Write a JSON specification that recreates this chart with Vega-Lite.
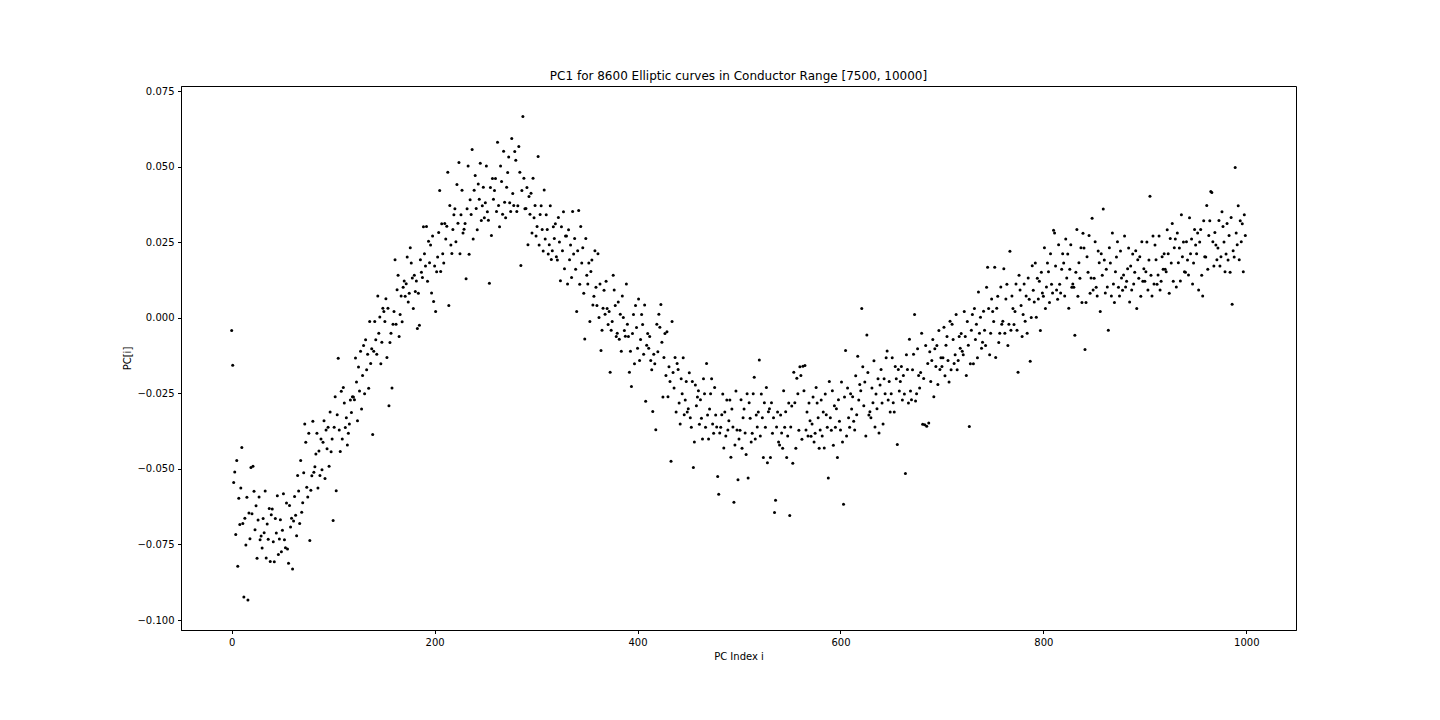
{
"$schema": "https://vega.github.io/schema/vega-lite/v6.json",
"width": 1115,
"height": 544,
"autosize": {"type": "none"},
"padding": {"left": 181, "top": 86, "right": 144, "bottom": 90},
"background": "white",
"config": {
  "view": {"stroke": "black", "strokeWidth": 1},
  "font": "DejaVu Sans",
  "axis": {"grid": false, "labelFont": "DejaVu Sans", "titleFont": "DejaVu Sans", "labelFontSize": 10, "titleFontSize": 10, "titleFontWeight": "normal", "labelColor": "black", "titleColor": "black", "tickColor": "black", "domainColor": "black", "tickSize": 3.5, "labelPadding": 3.5}
},
"title": {"text": "PC1 for 8600 Elliptic curves in Conductor Range [7500, 10000]", "font": "DejaVu Sans", "fontSize": 12, "fontWeight": "normal", "color": "black", "anchor": "middle", "offset": 3},
"data": {"values": [
{"i":0,"v":-0.0042},{"i":1,"v":-0.0157},{"i":2,"v":-0.0545},{"i":3,"v":-0.051},{"i":4,"v":-0.0717},{"i":5,"v":-0.0472},{"i":6,"v":-0.0822},{"i":7,"v":-0.0597},{"i":8,"v":-0.0684},{"i":9,"v":-0.0563},
{"i":10,"v":-0.0429},{"i":11,"v":-0.0681},{"i":12,"v":-0.0924},{"i":13,"v":-0.0663},{"i":14,"v":-0.0752},{"i":15,"v":-0.0594},{"i":16,"v":-0.0934},{"i":17,"v":-0.0646},{"i":18,"v":-0.0731},{"i":19,"v":-0.0495},
{"i":20,"v":-0.0648},{"i":21,"v":-0.0491},{"i":22,"v":-0.0574},{"i":23,"v":-0.0701},{"i":24,"v":-0.0622},{"i":25,"v":-0.0796},{"i":26,"v":-0.0669},{"i":27,"v":-0.0593},{"i":28,"v":-0.0734},{"i":29,"v":-0.0722},
{"i":30,"v":-0.0762},{"i":31,"v":-0.0664},{"i":32,"v":-0.0711},{"i":33,"v":-0.0573},{"i":34,"v":-0.0795},{"i":35,"v":-0.0682},{"i":36,"v":-0.0733},{"i":37,"v":-0.0631},{"i":38,"v":-0.0806},{"i":39,"v":-0.0652},
{"i":40,"v":-0.0633},{"i":41,"v":-0.0741},{"i":42,"v":-0.0807},{"i":43,"v":-0.0664},{"i":44,"v":-0.0712},{"i":45,"v":-0.0589},{"i":46,"v":-0.0783},{"i":47,"v":-0.0732},{"i":48,"v":-0.0668},{"i":49,"v":-0.0774},
{"i":50,"v":-0.0703},{"i":51,"v":-0.0582},{"i":52,"v":-0.0734},{"i":53,"v":-0.0761},{"i":54,"v":-0.0613},{"i":55,"v":-0.0765},{"i":56,"v":-0.0812},{"i":57,"v":-0.0621},{"i":58,"v":-0.0692},{"i":59,"v":-0.0663},
{"i":60,"v":-0.0831},{"i":61,"v":-0.0672},{"i":62,"v":-0.0591},{"i":63,"v":-0.0653},{"i":64,"v":-0.0721},{"i":65,"v":-0.0522},{"i":66,"v":-0.0573},{"i":67,"v":-0.0681},{"i":68,"v":-0.0472},{"i":69,"v":-0.0643},
{"i":70,"v":-0.0612},{"i":71,"v":-0.0513},{"i":72,"v":-0.0351},{"i":73,"v":-0.0412},{"i":74,"v":-0.0561},{"i":75,"v":-0.0593},{"i":76,"v":-0.0382},{"i":77,"v":-0.0737},{"i":78,"v":-0.0571},{"i":79,"v":-0.0523},
{"i":80,"v":-0.0342},{"i":81,"v":-0.0511},{"i":82,"v":-0.0493},{"i":83,"v":-0.0451},{"i":84,"v":-0.0382},{"i":85,"v":-0.0563},{"i":86,"v":-0.0441},{"i":87,"v":-0.0522},{"i":88,"v":-0.0401},{"i":89,"v":-0.0503},
{"i":90,"v":-0.0412},{"i":91,"v":-0.0341},{"i":92,"v":-0.0532},{"i":93,"v":-0.0371},{"i":94,"v":-0.0433},{"i":95,"v":-0.0362},{"i":96,"v":-0.0491},{"i":97,"v":-0.0312},{"i":98,"v":-0.0443},{"i":99,"v":-0.0401},
{"i":100,"v":-0.0671},{"i":101,"v":-0.0362},{"i":102,"v":-0.0261},{"i":103,"v":-0.0572},{"i":104,"v":-0.0321},{"i":105,"v":-0.0134},{"i":106,"v":-0.0371},{"i":107,"v":-0.0442},{"i":108,"v":-0.0243},{"i":109,"v":-0.0401},
{"i":110,"v":-0.0231},{"i":111,"v":-0.0282},{"i":112,"v":-0.0363},{"i":113,"v":-0.0331},{"i":114,"v":-0.0421},{"i":115,"v":-0.0382},{"i":116,"v":-0.0351},{"i":117,"v":-0.0272},{"i":118,"v":-0.0313},{"i":119,"v":-0.0261},
{"i":120,"v":-0.0262},{"i":121,"v":-0.0271},{"i":122,"v":-0.0133},{"i":123,"v":-0.0212},{"i":124,"v":-0.0341},{"i":125,"v":-0.0163},{"i":126,"v":-0.0242},{"i":127,"v":-0.0111},{"i":128,"v":-0.0302},{"i":129,"v":-0.0191},
{"i":130,"v":-0.0092},{"i":131,"v":-0.0251},{"i":132,"v":-0.0073},{"i":133,"v":-0.0172},{"i":134,"v":-0.0121},{"i":135,"v":-0.0233},{"i":136,"v":-0.0012},{"i":137,"v":-0.0151},{"i":138,"v":-0.0102},{"i":139,"v":-0.0386},
{"i":140,"v":-0.0111},{"i":141,"v":-0.0012},{"i":142,"v":-0.0073},{"i":143,"v":-0.0121},{"i":144,"v":0.0072},{"i":145,"v":-0.0051},{"i":146,"v":0.0003},{"i":147,"v":-0.0152},{"i":148,"v":-0.0081},{"i":149,"v":0.0032},
{"i":150,"v":0.0021},{"i":151,"v":-0.0012},{"i":152,"v":0.0063},{"i":153,"v":-0.0131},{"i":154,"v":0.0032},{"i":155,"v":-0.0291},{"i":156,"v":-0.0082},{"i":157,"v":-0.0051},{"i":158,"v":-0.0232},{"i":159,"v":-0.0021},
{"i":160,"v":0.0021},{"i":161,"v":0.0192},{"i":162,"v":-0.0021},{"i":163,"v":0.0093},{"i":164,"v":0.0141},{"i":165,"v":-0.0062},{"i":166,"v":0.0011},{"i":167,"v":0.0072},{"i":168,"v":-0.0013},{"i":169,"v":0.0101},
{"i":170,"v":0.0122},{"i":171,"v":0.0071},{"i":172,"v":0.0113},{"i":173,"v":0.0201},{"i":174,"v":0.0052},{"i":175,"v":0.0081},{"i":176,"v":0.0232},{"i":177,"v":0.0181},{"i":178,"v":0.0132},{"i":179,"v":0.0031},
{"i":180,"v":0.0141},{"i":181,"v":0.0087},{"i":182,"v":0.0122},{"i":183,"v":-0.0035},{"i":184,"v":0.0081},{"i":185,"v":-0.0025},{"i":186,"v":0.0192},{"i":187,"v":0.0151},{"i":188,"v":0.0133},{"i":189,"v":0.0301},
{"i":190,"v":0.0212},{"i":191,"v":0.0171},{"i":192,"v":0.0302},{"i":193,"v":0.0121},{"i":194,"v":0.0253},{"i":195,"v":0.0182},{"i":196,"v":0.0241},{"i":197,"v":0.0082},{"i":198,"v":0.0271},{"i":199,"v":0.0054},
{"i":200,"v":0.0171},{"i":201,"v":0.0021},{"i":202,"v":0.0152},{"i":203,"v":0.0201},{"i":204,"v":0.0282},{"i":205,"v":0.0421},{"i":206,"v":0.0153},{"i":207,"v":0.0311},{"i":208,"v":0.0212},{"i":209,"v":0.0181},
{"i":210,"v":0.0312},{"i":211,"v":0.0261},{"i":212,"v":0.0303},{"i":213,"v":0.0482},{"i":214,"v":0.0041},{"i":215,"v":0.0372},{"i":216,"v":0.0241},{"i":217,"v":0.0213},{"i":218,"v":0.0292},{"i":219,"v":0.0341},
{"i":220,"v":0.0361},{"i":221,"v":0.0252},{"i":222,"v":0.0441},{"i":223,"v":0.0313},{"i":224,"v":0.0514},{"i":225,"v":0.0212},{"i":226,"v":0.0341},{"i":227,"v":0.0422},{"i":228,"v":0.0281},{"i":229,"v":0.0293},
{"i":230,"v":0.0312},{"i":231,"v":0.0129},{"i":232,"v":0.0361},{"i":233,"v":0.0502},{"i":234,"v":0.021},{"i":235,"v":0.0391},{"i":236,"v":0.0342},{"i":237,"v":0.0557},{"i":238,"v":0.0261},{"i":239,"v":0.0422},
{"i":240,"v":0.0471},{"i":241,"v":0.0362},{"i":242,"v":0.0291},{"i":243,"v":0.0443},{"i":244,"v":0.0392},{"i":245,"v":0.0511},{"i":246,"v":0.0322},{"i":247,"v":0.0371},{"i":248,"v":0.0432},{"i":249,"v":0.0331},
{"i":250,"v":0.0381},{"i":251,"v":0.0502},{"i":252,"v":0.0351},{"i":253,"v":0.0323},{"i":254,"v":0.0114},{"i":255,"v":0.0431},{"i":256,"v":0.0272},{"i":257,"v":0.0461},{"i":258,"v":0.0392},{"i":259,"v":0.0421},
{"i":260,"v":0.0461},{"i":261,"v":0.0352},{"i":262,"v":0.0581},{"i":263,"v":0.0372},{"i":264,"v":0.0301},{"i":265,"v":0.0502},{"i":266,"v":0.0451},{"i":267,"v":0.0343},{"i":268,"v":0.0551},{"i":269,"v":0.0382},
{"i":270,"v":0.0331},{"i":271,"v":0.0432},{"i":272,"v":0.0481},{"i":273,"v":0.0532},{"i":274,"v":0.0381},{"i":275,"v":0.0352},{"i":276,"v":0.0593},{"i":277,"v":0.0411},{"i":278,"v":0.0372},{"i":279,"v":0.055},
{"i":280,"v":0.0521},{"i":281,"v":0.0352},{"i":282,"v":0.0371},{"i":283,"v":0.0567},{"i":284,"v":0.0482},{"i":285,"v":0.0173},{"i":286,"v":0.0421},{"i":287,"v":0.0666},{"i":288,"v":0.0462},{"i":289,"v":0.0361},
{"i":290,"v":0.0362},{"i":291,"v":0.0431},{"i":292,"v":0.0242},{"i":293,"v":0.0401},{"i":294,"v":0.0343},{"i":295,"v":0.0412},{"i":296,"v":0.0281},{"i":297,"v":0.0462},{"i":298,"v":0.0331},{"i":299,"v":0.0372},
{"i":300,"v":0.0271},{"i":301,"v":0.0302},{"i":302,"v":0.0534},{"i":303,"v":0.0241},{"i":304,"v":0.0342},{"i":305,"v":0.0371},{"i":306,"v":0.0292},{"i":307,"v":0.0221},{"i":308,"v":0.0423},{"i":309,"v":0.0261},
{"i":310,"v":0.0341},{"i":311,"v":0.0292},{"i":312,"v":0.0211},{"i":313,"v":0.0242},{"i":314,"v":0.0371},{"i":315,"v":0.0193},{"i":316,"v":0.0222},{"i":317,"v":0.0301},{"i":318,"v":0.0262},{"i":319,"v":0.0311},
{"i":320,"v":0.0202},{"i":321,"v":0.0191},{"i":322,"v":0.0332},{"i":323,"v":0.0251},{"i":324,"v":0.0123},{"i":325,"v":0.0301},{"i":326,"v":0.0222},{"i":327,"v":0.0351},{"i":328,"v":0.0162},{"i":329,"v":0.0271},
{"i":330,"v":0.0271},{"i":331,"v":0.0112},{"i":332,"v":0.0291},{"i":333,"v":0.0192},{"i":334,"v":0.0241},{"i":335,"v":0.0133},{"i":336,"v":0.0352},{"i":337,"v":0.0211},{"i":338,"v":0.0262},{"i":339,"v":0.0161},
{"i":340,"v":0.0021},{"i":341,"v":0.0222},{"i":342,"v":0.0355},{"i":343,"v":0.0111},{"i":344,"v":0.0302},{"i":345,"v":0.0181},{"i":346,"v":0.0232},{"i":347,"v":0.0081},{"i":348,"v":-0.007},{"i":349,"v":0.0262},
{"i":350,"v":0.0141},{"i":351,"v":0.0112},{"i":352,"v":0.0181},{"i":353,"v":-0.0012},{"i":354,"v":0.0153},{"i":355,"v":0.0191},{"i":356,"v":0.0042},{"i":357,"v":0.0071},{"i":358,"v":0.0222},{"i":359,"v":0.0101},
{"i":360,"v":0.0041},{"i":361,"v":0.0212},{"i":362,"v":0.0001},{"i":363,"v":0.0112},{"i":364,"v":-0.0108},{"i":365,"v":-0.0041},{"i":366,"v":0.0032},{"i":367,"v":0.0091},{"i":368,"v":0.0012},{"i":369,"v":0.0121},
{"i":370,"v":0.0031},{"i":371,"v":-0.0022},{"i":372,"v":0.0021},{"i":373,"v":-0.018},{"i":374,"v":-0.0041},{"i":375,"v":-0.0012},{"i":376,"v":0.0141},{"i":377,"v":0.0092},{"i":378,"v":0.0041},{"i":379,"v":-0.0062},
{"i":380,"v":-0.0051},{"i":381,"v":0.0052},{"i":382,"v":-0.0071},{"i":383,"v":0.0012},{"i":384,"v":-0.0111},{"i":385,"v":0.0072},{"i":386,"v":0.0001},{"i":387,"v":-0.0042},{"i":388,"v":-0.0061},{"i":389,"v":0.0112},
{"i":390,"v":-0.0021},{"i":391,"v":-0.0062},{"i":392,"v":-0.018},{"i":393,"v":-0.0111},{"i":394,"v":-0.0227},{"i":395,"v":-0.0052},{"i":396,"v":0.0011},{"i":397,"v":-0.0152},{"i":398,"v":0.0041},{"i":399,"v":-0.0032},
{"i":400,"v":-0.0101},{"i":401,"v":0.0062},{"i":402,"v":-0.0141},{"i":403,"v":-0.0072},{"i":404,"v":0.0011},{"i":405,"v":-0.0022},{"i":406,"v":-0.0121},{"i":407,"v":0.0042},{"i":408,"v":-0.0276},{"i":409,"v":-0.0091},
{"i":410,"v":-0.0052},{"i":411,"v":-0.0101},{"i":412,"v":-0.0062},{"i":413,"v":-0.0141},{"i":414,"v":-0.0172},{"i":415,"v":-0.031},{"i":416,"v":-0.0121},{"i":417,"v":-0.0152},{"i":418,"v":-0.037},{"i":419,"v":-0.0021},
{"i":420,"v":-0.0112},{"i":421,"v":0.0012},{"i":422,"v":-0.0031},{"i":423,"v":0.0044},{"i":424,"v":-0.0081},{"i":425,"v":-0.0262},{"i":426,"v":-0.0131},{"i":427,"v":-0.0052},{"i":428,"v":-0.0191},{"i":429,"v":-0.0046},
{"i":430,"v":-0.0261},{"i":431,"v":-0.0162},{"i":432,"v":-0.0211},{"i":433,"v":-0.0475},{"i":434,"v":-0.0012},{"i":435,"v":-0.0181},{"i":436,"v":-0.0232},{"i":437,"v":-0.0131},{"i":438,"v":-0.0312},{"i":439,"v":-0.0151},
{"i":440,"v":-0.0171},{"i":441,"v":-0.0282},{"i":442,"v":-0.0351},{"i":443,"v":-0.0202},{"i":444,"v":-0.0251},{"i":445,"v":-0.0132},{"i":446,"v":-0.0321},{"i":447,"v":-0.0272},{"i":448,"v":-0.0211},{"i":449,"v":-0.0312},
{"i":450,"v":-0.0301},{"i":451,"v":-0.0182},{"i":452,"v":-0.0331},{"i":453,"v":-0.0362},{"i":454,"v":-0.0211},{"i":455,"v":-0.0495},{"i":456,"v":-0.0411},{"i":457,"v":-0.0222},{"i":458,"v":-0.0291},{"i":459,"v":-0.0262},
{"i":460,"v":-0.0241},{"i":461,"v":-0.0352},{"i":462,"v":-0.0271},{"i":463,"v":-0.0332},{"i":464,"v":-0.0401},{"i":465,"v":-0.0202},{"i":466,"v":-0.0251},{"i":467,"v":-0.0362},{"i":468,"v":-0.0151},{"i":469,"v":-0.0322},
{"i":470,"v":-0.0401},{"i":471,"v":-0.0302},{"i":472,"v":-0.0251},{"i":473,"v":-0.0202},{"i":474,"v":-0.0351},{"i":475,"v":-0.0382},{"i":476,"v":-0.0231},{"i":477,"v":-0.0322},{"i":478,"v":-0.0361},{"i":479,"v":-0.0525},
{"i":480,"v":-0.0584},{"i":481,"v":-0.0381},{"i":482,"v":-0.0362},{"i":483,"v":-0.0321},{"i":484,"v":-0.0252},{"i":485,"v":-0.0431},{"i":486,"v":-0.0312},{"i":487,"v":-0.0391},{"i":488,"v":-0.0272},{"i":489,"v":-0.0371},
{"i":490,"v":-0.0341},{"i":491,"v":-0.0272},{"i":492,"v":-0.0461},{"i":493,"v":-0.0302},{"i":494,"v":-0.0361},{"i":495,"v":-0.061},{"i":496,"v":-0.0421},{"i":497,"v":-0.0242},{"i":498,"v":-0.0371},{"i":499,"v":-0.0536},
{"i":500,"v":-0.0401},{"i":501,"v":-0.0372},{"i":502,"v":-0.0271},{"i":503,"v":-0.0432},{"i":504,"v":-0.0331},{"i":505,"v":-0.0302},{"i":506,"v":-0.0381},{"i":507,"v":-0.0452},{"i":508,"v":-0.0251},{"i":509,"v":-0.053},
{"i":510,"v":-0.0281},{"i":511,"v":-0.0332},{"i":512,"v":-0.0411},{"i":513,"v":-0.0382},{"i":514,"v":-0.0251},{"i":515,"v":-0.0197},{"i":516,"v":-0.0401},{"i":517,"v":-0.0322},{"i":518,"v":-0.0361},{"i":519,"v":-0.0312},
{"i":520,"v":-0.014},{"i":521,"v":-0.0391},{"i":522,"v":-0.0252},{"i":523,"v":-0.0331},{"i":524,"v":-0.0462},{"i":525,"v":-0.0281},{"i":526,"v":-0.0362},{"i":527,"v":-0.0231},{"i":528,"v":-0.048},{"i":529,"v":-0.0311},
{"i":530,"v":-0.0301},{"i":531,"v":-0.0462},{"i":532,"v":-0.0281},{"i":533,"v":-0.0382},{"i":534,"v":-0.0331},{"i":535,"v":-0.0644},{"i":536,"v":-0.0604},{"i":537,"v":-0.0361},{"i":538,"v":-0.0312},{"i":539,"v":-0.0411},
{"i":540,"v":-0.0421},{"i":541,"v":-0.0322},{"i":542,"v":-0.0381},{"i":543,"v":-0.0432},{"i":544,"v":-0.0241},{"i":545,"v":-0.0362},{"i":546,"v":-0.0311},{"i":547,"v":-0.0462},{"i":548,"v":-0.0391},{"i":549,"v":-0.0282},
{"i":550,"v":-0.0654},{"i":551,"v":-0.0361},{"i":552,"v":-0.0292},{"i":553,"v":-0.0481},{"i":554,"v":-0.018},{"i":555,"v":-0.0281},{"i":556,"v":-0.0432},{"i":557,"v":-0.02},{"i":558,"v":-0.0251},{"i":559,"v":-0.0372},
{"i":560,"v":-0.0162},{"i":561,"v":-0.0191},{"i":562,"v":-0.0402},{"i":563,"v":-0.016},{"i":564,"v":-0.0241},{"i":565,"v":-0.0158},{"i":566,"v":-0.0371},{"i":567,"v":-0.0312},{"i":568,"v":-0.0391},{"i":569,"v":-0.0282},
{"i":570,"v":-0.0341},{"i":571,"v":-0.0392},{"i":572,"v":-0.0351},{"i":573,"v":-0.0262},{"i":574,"v":-0.0411},{"i":575,"v":-0.0382},{"i":576,"v":-0.0231},{"i":577,"v":-0.0282},{"i":578,"v":-0.0331},{"i":579,"v":-0.0432},
{"i":580,"v":-0.0371},{"i":581,"v":-0.0272},{"i":582,"v":-0.0391},{"i":583,"v":-0.0312},{"i":584,"v":-0.0431},{"i":585,"v":-0.0252},{"i":586,"v":-0.0321},{"i":587,"v":-0.0362},{"i":588,"v":-0.053},{"i":589,"v":-0.0211},
{"i":590,"v":-0.0331},{"i":591,"v":-0.0372},{"i":592,"v":-0.0241},{"i":593,"v":-0.0422},{"i":594,"v":-0.0291},{"i":595,"v":-0.0362},{"i":596,"v":-0.0301},{"i":597,"v":-0.0462},{"i":598,"v":-0.0271},{"i":599,"v":-0.0342},
{"i":600,"v":-0.0371},{"i":601,"v":-0.0212},{"i":602,"v":-0.0411},{"i":603,"v":-0.0617},{"i":604,"v":-0.0262},{"i":605,"v":-0.0108},{"i":606,"v":-0.0391},{"i":607,"v":-0.0232},{"i":608,"v":-0.0331},{"i":609,"v":-0.0362},
{"i":610,"v":-0.0251},{"i":611,"v":-0.0302},{"i":612,"v":-0.0261},{"i":613,"v":-0.0342},{"i":614,"v":-0.0371},{"i":615,"v":-0.0192},{"i":616,"v":-0.0321},{"i":617,"v":-0.0127},{"i":618,"v":-0.0272},{"i":619,"v":-0.0221},
{"i":620,"v":-0.0241},{"i":621,"v":0.0031},{"i":622,"v":-0.0162},{"i":623,"v":-0.0291},{"i":624,"v":-0.0212},{"i":625,"v":-0.0391},{"i":626,"v":-0.0057},{"i":627,"v":-0.0181},{"i":628,"v":-0.0322},{"i":629,"v":-0.0311},
{"i":630,"v":-0.0331},{"i":631,"v":-0.0232},{"i":632,"v":-0.0281},{"i":633,"v":-0.0142},{"i":634,"v":-0.0361},{"i":635,"v":-0.0252},{"i":636,"v":-0.0301},{"i":637,"v":-0.0202},{"i":638,"v":-0.0381},{"i":639,"v":-0.0222},
{"i":640,"v":-0.0171},{"i":641,"v":-0.0282},{"i":642,"v":-0.0351},{"i":643,"v":-0.0202},{"i":644,"v":-0.0251},{"i":645,"v":-0.0132},{"i":646,"v":-0.011},{"i":647,"v":-0.0272},{"i":648,"v":-0.0211},{"i":649,"v":-0.0312},
{"i":650,"v":-0.0251},{"i":651,"v":-0.0132},{"i":652,"v":-0.0281},{"i":653,"v":-0.0312},{"i":654,"v":-0.0161},{"i":655,"v":-0.0202},{"i":656,"v":-0.0419},{"i":657,"v":-0.0171},{"i":658,"v":-0.0242},{"i":659,"v":-0.0211},
{"i":660,"v":-0.0161},{"i":661,"v":-0.0272},{"i":662,"v":-0.0191},{"i":663,"v":-0.0252},{"i":664,"v":-0.0515},{"i":665,"v":-0.0122},{"i":666,"v":-0.0171},{"i":667,"v":-0.0282},{"i":668,"v":-0.0071},{"i":669,"v":-0.0242},
{"i":670,"v":-0.0271},{"i":671,"v":-0.0172},{"i":672,"v":-0.0121},{"i":673,"v":0.0011},{"i":674,"v":-0.0275},{"i":675,"v":-0.0251},{"i":676,"v":-0.0102},{"i":677,"v":-0.0191},{"i":678,"v":-0.0232},{"i":679,"v":-0.0181},
{"i":680,"v":-0.0051},{"i":681,"v":-0.0352},{"i":682,"v":-0.0201},{"i":683,"v":-0.0354},{"i":684,"v":-0.0092},{"i":685,"v":-0.0359},{"i":686,"v":-0.0151},{"i":687,"v":-0.0348},{"i":688,"v":-0.0112},{"i":689,"v":-0.0211},
{"i":690,"v":-0.0141},{"i":691,"v":-0.0072},{"i":692,"v":-0.0261},{"i":693,"v":-0.0102},{"i":694,"v":-0.0161},{"i":695,"v":-0.0092},{"i":696,"v":-0.0221},{"i":697,"v":-0.0042},{"i":698,"v":-0.0171},{"i":699,"v":-0.0132},
{"i":700,"v":-0.0161},{"i":701,"v":-0.0132},{"i":702,"v":-0.0031},{"i":703,"v":-0.0192},{"i":704,"v":-0.0091},{"i":705,"v":-0.0062},{"i":706,"v":-0.0141},{"i":707,"v":-0.0212},{"i":708,"v":-0.0011},{"i":709,"v":-0.0172},
{"i":710,"v":-0.0021},{"i":711,"v":-0.0072},{"i":712,"v":-0.0151},{"i":713,"v":-0.0122},{"i":714,"v":0.0011},{"i":715,"v":-0.0172},{"i":716,"v":-0.0141},{"i":717,"v":-0.0062},{"i":718,"v":-0.0101},{"i":719,"v":-0.0052},
{"i":720,"v":-0.0111},{"i":721,"v":-0.0122},{"i":722,"v":0.0021},{"i":723,"v":-0.0062},{"i":724,"v":-0.0191},{"i":725,"v":-0.0012},{"i":726,"v":-0.0091},{"i":727,"v":-0.036},{"i":728,"v":-0.0152},{"i":729,"v":-0.0041},
{"i":730,"v":0.0011},{"i":731,"v":-0.0152},{"i":732,"v":0.0031},{"i":733,"v":-0.0072},{"i":734,"v":-0.0021},{"i":735,"v":-0.0132},{"i":736,"v":0.0085},{"i":737,"v":-0.0051},{"i":738,"v":0.0002},{"i":739,"v":-0.0101},
{"i":740,"v":-0.0081},{"i":741,"v":0.0022},{"i":742,"v":-0.0041},{"i":743,"v":-0.0092},{"i":744,"v":0.0101},{"i":745,"v":0.0167},{"i":746,"v":0.0031},{"i":747,"v":-0.0122},{"i":748,"v":-0.0051},{"i":749,"v":0.0062},
{"i":750,"v":0.0021},{"i":751,"v":-0.0012},{"i":752,"v":0.0167},{"i":753,"v":-0.0131},{"i":754,"v":0.0032},{"i":755,"v":0.0071},{"i":756,"v":-0.0082},{"i":757,"v":-0.0051},{"i":758,"v":0.0102},{"i":759,"v":-0.0021},
{"i":760,"v":-0.0011},{"i":761,"v":0.0162},{"i":762,"v":-0.0051},{"i":763,"v":0.0062},{"i":764,"v":0.0111},{"i":765,"v":-0.0092},{"i":766,"v":-0.0021},{"i":767,"v":0.022},{"i":768,"v":-0.0041},{"i":769,"v":0.0072},
{"i":770,"v":0.0031},{"i":771,"v":-0.0022},{"i":772,"v":0.0021},{"i":773,"v":0.0112},{"i":774,"v":-0.0041},{"i":775,"v":-0.018},{"i":776,"v":0.0141},{"i":777,"v":0.0092},{"i":778,"v":0.0041},{"i":779,"v":-0.0062},
{"i":780,"v":0.0011},{"i":781,"v":0.0112},{"i":782,"v":-0.0011},{"i":783,"v":0.0072},{"i":784,"v":-0.0051},{"i":785,"v":0.0132},{"i":786,"v":0.0061},{"i":787,"v":-0.0144},{"i":788,"v":0.0001},{"i":789,"v":0.0172},
{"i":790,"v":0.0091},{"i":791,"v":0.0052},{"i":792,"v":0.0181},{"i":793,"v":0.0002},{"i":794,"v":0.0131},{"i":795,"v":0.0062},{"i":796,"v":0.0121},{"i":797,"v":-0.0042},{"i":798,"v":0.0151},{"i":799,"v":0.0082},
{"i":800,"v":0.0071},{"i":801,"v":0.0232},{"i":802,"v":0.0031},{"i":803,"v":0.0102},{"i":804,"v":0.0181},{"i":805,"v":0.0152},{"i":806,"v":0.0051},{"i":807,"v":0.0212},{"i":808,"v":0.0111},{"i":809,"v":0.0082},
{"i":810,"v":0.029},{"i":811,"v":0.0281},{"i":812,"v":0.0171},{"i":813,"v":0.0092},{"i":814,"v":0.0061},{"i":815,"v":0.0242},{"i":816,"v":0.0111},{"i":817,"v":0.0082},{"i":818,"v":0.0161},{"i":819,"v":0.0212},
{"i":820,"v":0.0181},{"i":821,"v":0.0072},{"i":822,"v":0.0261},{"i":823,"v":0.0132},{"i":824,"v":0.0211},{"i":825,"v":0.0032},{"i":826,"v":0.0161},{"i":827,"v":0.0242},{"i":828,"v":0.0101},{"i":829,"v":0.0112},
{"i":830,"v":0.0101},{"i":831,"v":-0.0058},{"i":832,"v":0.0151},{"i":833,"v":0.0292},{"i":834,"v":0.0071},{"i":835,"v":0.0182},{"i":836,"v":0.0131},{"i":837,"v":0.0232},{"i":838,"v":0.0051},{"i":839,"v":0.028},
{"i":840,"v":0.0231},{"i":841,"v":-0.0105},{"i":842,"v":0.0051},{"i":843,"v":0.0202},{"i":844,"v":0.0151},{"i":845,"v":0.0272},{"i":846,"v":0.0081},{"i":847,"v":0.0132},{"i":848,"v":0.0329},{"i":849,"v":0.0092},
{"i":850,"v":0.0131},{"i":851,"v":0.0252},{"i":852,"v":0.0101},{"i":853,"v":0.0072},{"i":854,"v":0.0221},{"i":855,"v":0.0182},{"i":856,"v":0.0021},{"i":857,"v":0.0212},{"i":858,"v":0.0141},{"i":859,"v":0.036},
{"i":860,"v":0.0191},{"i":861,"v":0.0082},{"i":862,"v":0.0161},{"i":863,"v":0.0102},{"i":864,"v":-0.0041},{"i":865,"v":0.0232},{"i":866,"v":0.0181},{"i":867,"v":0.0072},{"i":868,"v":0.0281},{"i":869,"v":0.0112},
{"i":870,"v":0.0051},{"i":871,"v":0.0152},{"i":872,"v":0.0201},{"i":873,"v":0.0252},{"i":874,"v":0.0101},{"i":875,"v":0.0072},{"i":876,"v":0.0221},{"i":877,"v":0.0132},{"i":878,"v":0.0091},{"i":879,"v":0.0142},
{"i":880,"v":0.0271},{"i":881,"v":0.0102},{"i":882,"v":0.0121},{"i":883,"v":0.0162},{"i":884,"v":0.0231},{"i":885,"v":0.0052},{"i":886,"v":0.0171},{"i":887,"v":0.0092},{"i":888,"v":0.0211},{"i":889,"v":0.0112},
{"i":890,"v":0.0151},{"i":891,"v":0.0222},{"i":892,"v":0.0031},{"i":893,"v":0.0192},{"i":894,"v":0.0131},{"i":895,"v":0.0202},{"i":896,"v":0.0071},{"i":897,"v":0.0252},{"i":898,"v":0.0121},{"i":899,"v":0.0162},
{"i":900,"v":0.0121},{"i":901,"v":0.0152},{"i":902,"v":0.0251},{"i":903,"v":0.0092},{"i":904,"v":0.0191},{"i":905,"v":0.0402},{"i":906,"v":0.0141},{"i":907,"v":0.0072},{"i":908,"v":0.0271},{"i":909,"v":0.0112},
{"i":910,"v":0.0241},{"i":911,"v":0.0192},{"i":912,"v":0.0111},{"i":913,"v":0.0142},{"i":914,"v":0.0271},{"i":915,"v":0.0092},{"i":916,"v":0.0121},{"i":917,"v":0.0202},{"i":918,"v":0.0161},{"i":919,"v":0.0212},
{"i":920,"v":0.0161},{"i":921,"v":0.0152},{"i":922,"v":0.0291},{"i":923,"v":0.0212},{"i":924,"v":0.0081},{"i":925,"v":0.0262},{"i":926,"v":0.0181},{"i":927,"v":0.0312},{"i":928,"v":0.0121},{"i":929,"v":0.0232},
{"i":930,"v":0.0261},{"i":931,"v":0.0102},{"i":932,"v":0.0281},{"i":933,"v":0.0182},{"i":934,"v":0.0231},{"i":935,"v":0.0122},{"i":936,"v":0.0341},{"i":937,"v":0.0202},{"i":938,"v":0.0251},{"i":939,"v":0.0152},
{"i":940,"v":0.0151},{"i":941,"v":0.0252},{"i":942,"v":0.0191},{"i":943,"v":0.0142},{"i":944,"v":0.0331},{"i":945,"v":0.0212},{"i":946,"v":0.0261},{"i":947,"v":0.0112},{"i":948,"v":0.0181},{"i":949,"v":0.0292},
{"i":950,"v":0.0241},{"i":951,"v":0.0212},{"i":952,"v":0.0281},{"i":953,"v":0.0092},{"i":954,"v":0.0251},{"i":955,"v":0.0292},{"i":956,"v":0.0141},{"i":957,"v":0.0072},{"i":958,"v":0.0321},{"i":959,"v":0.0202},
{"i":960,"v":0.0201},{"i":961,"v":0.0372},{"i":962,"v":0.0161},{"i":963,"v":0.0272},{"i":964,"v":0.0321},{"i":965,"v":0.0418},{"i":966,"v":0.0415},{"i":967,"v":0.0252},{"i":968,"v":0.0171},{"i":969,"v":0.0282},
{"i":970,"v":0.0241},{"i":971,"v":0.0192},{"i":972,"v":0.0231},{"i":973,"v":0.0322},{"i":974,"v":0.0171},{"i":975,"v":0.0202},{"i":976,"v":0.0351},{"i":977,"v":0.0302},{"i":978,"v":0.0251},{"i":979,"v":0.0152},
{"i":980,"v":0.0211},{"i":981,"v":0.0312},{"i":982,"v":0.0191},{"i":983,"v":0.0272},{"i":984,"v":0.0151},{"i":985,"v":0.0332},{"i":986,"v":0.0045},{"i":987,"v":0.0222},{"i":988,"v":0.0201},{"i":989,"v":0.0497},
{"i":990,"v":0.0281},{"i":991,"v":0.0242},{"i":992,"v":0.0371},{"i":993,"v":0.0192},{"i":994,"v":0.0321},{"i":995,"v":0.0252},{"i":996,"v":0.0311},{"i":997,"v":0.0152},{"i":998,"v":0.0341},{"i":999,"v":0.0272}
]},
"mark": {"type": "point", "shape": "circle", "filled": true, "color": "black", "size": 9, "opacity": 1},
"encoding": {
  "x": {"field": "i", "type": "quantitative", "scale": {"domain": [-49.95, 1048.95], "nice": false, "zero": false}, "axis": {"title": "PC Index i", "values": [0, 200, 400, 600, 800, 1000], "format": "d", "titlePadding": 4}},
  "y": {"field": "v", "type": "quantitative", "scale": {"domain": [-0.1033, 0.0767], "nice": false, "zero": false}, "axis": {"title": "PC[i]", "values": [-0.1, -0.075, -0.05, -0.025, 0, 0.025, 0.05, 0.075], "format": ".3f", "titlePadding": 4}}
}
}
